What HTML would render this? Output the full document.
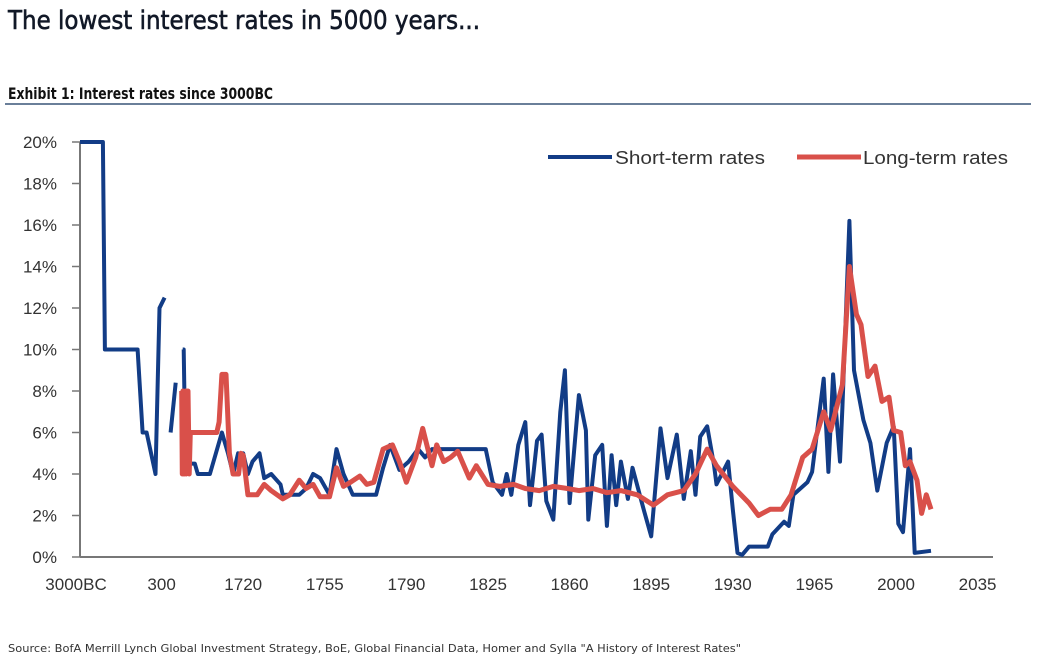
<!DOCTYPE html>
<html><head><meta charset="utf-8"><style>
html,body{margin:0;padding:0;background:#fff;width:1037px;height:668px;overflow:hidden}
svg{display:block}
</style></head><body>
<svg id="chart" width="1037" height="668" viewBox="0 0 1037 668">
<text x="8" y="29" font-family="'DejaVu Sans','Liberation Sans',sans-serif" font-size="26" fill="#111827" stroke="#111827" stroke-width="0.6" textLength="472" lengthAdjust="spacingAndGlyphs">The lowest interest rates in 5000 years...</text>
<text x="8" y="99" font-family="'DejaVu Sans','Liberation Sans',sans-serif" font-weight="bold" font-size="16" fill="#111" textLength="265" lengthAdjust="spacingAndGlyphs">Exhibit 1: Interest rates since 3000BC</text>
<rect x="5" y="103" width="1026" height="2" fill="#6a7f99"/>
<g id="axes"></g>
<g id="series"></g>
<g>
<line x1="548" y1="157" x2="612" y2="157" stroke="#123c86" stroke-width="4"/>
<text x="615" y="164" font-family="'Liberation Sans',sans-serif" font-size="18" fill="#333" textLength="150" lengthAdjust="spacingAndGlyphs">Short-term rates</text>
<line x1="797" y1="157" x2="861" y2="157" stroke="#d9504a" stroke-width="5"/>
<text x="863" y="164" font-family="'Liberation Sans',sans-serif" font-size="18" fill="#333" textLength="145" lengthAdjust="spacingAndGlyphs">Long-term rates</text>
</g>
<text x="8" y="652" font-family="'DejaVu Sans','Liberation Sans',sans-serif" font-size="11" fill="#333" textLength="733" lengthAdjust="spacingAndGlyphs">Source: BofA Merrill Lynch Global Investment Strategy, BoE, Global Financial Data, Homer and Sylla "A History of Interest Rates"</text>
</svg>
<script>
const xTickLabels = ["3000BC","300","1720","1755","1790","1825","1860","1895","1930","1965","2000","2035"];
const xTickYears = [-3000,300,1720,1755,1790,1825,1860,1895,1930,1965,2000,2035];
const yTicks = [0,2,4,6,8,10,12,14,16,18,20];

const shortSeg1Years = [-3000,-2075,-1995,-670,-470,-305,55,215,352];
const shortSeg1Rates = [20,20,10,10,6,6,4,12,12.5];
const shortSeg2Years = [457,545];
const shortSeg2Rates = [6,8.4];
const shortYears = [667,685,720,755,877,930,1140,1350,1455,1545,1632,1680,1720,1722,1724,1727,1729,1732,1736,1737,1740,1744,1747,1750,1753,1757,1760,1763,1767,1772,1777,1780,1783,1787,1791,1795,1798,1801,1810,1818,1824,1827,1831,1833,1835,1838,1841,1843,1846,1848,1850,1853,1856,1858,1860,1864,1867,1868,1871,1874,1876,1878,1880,1882,1885,1887,1892,1895,1899,1902,1906,1909,1912,1914,1916,1919,1922,1923,1928,1930,1932,1934,1937,1945,1947,1952,1954,1956,1962,1964,1969,1971,1973,1976,1977,1980,1982,1986,1989,1992,1996,1999,2001,2003,2006,2008,2015];
const shortRates = [10,10,4,4.5,4.5,4,4,6,5,4,5,4.5,5,4,4.6,5,3.8,4,3.5,3,3,3,3.3,4,3.8,3,5.2,4,3,3,3,4.3,5.4,4.2,4.6,5.2,4.8,5.2,5.2,5.2,5.2,3.6,3,4,3,5.4,6.5,2.5,5.6,5.9,2.7,1.8,7,9,2.6,7.8,6.1,1.8,4.9,5.4,1.5,4.9,2.5,4.6,2.8,4.3,2.2,1,6.2,3.8,5.9,2.8,5.1,3,5.8,6.3,4.4,3.5,4.6,2.3,0.2,0.1,0.5,0.5,1.1,1.7,1.5,3,3.6,4.1,8.6,4.1,8.8,4.6,7.2,16.2,9,6.6,5.5,3.2,5.5,6.3,1.6,1.2,5.2,0.2,0.3];

const longYears = [650,660,670,680,690,700,720,730,760,780,800,910,1000,1260,1300,1350,1420,1480,1545,1640,1680,1720,1722,1726,1729,1732,1737,1740,1744,1747,1750,1753,1757,1760,1763,1766,1770,1773,1776,1780,1784,1787,1790,1794,1797,1801,1803,1806,1809,1812,1817,1820,1825,1830,1836,1841,1847,1853,1859,1864,1870,1876,1882,1889,1896,1902,1909,1914,1919,1923,1930,1937,1941,1946,1951,1955,1960,1964,1969,1972,1977,1980,1983,1985,1988,1991,1994,1997,1999,2002,2004,2006,2009,2011,2013,2015];
const longRates = [8,4,8,4,7.8,4,8,4,8,4,6,6,6,6,6.5,8.8,8.8,5,4,4,5,4.9,3,3,3.5,3.2,2.8,3,3.7,3.3,3.5,2.9,2.9,4.3,3.4,3.6,3.9,3.5,3.6,5.2,5.4,4.6,3.6,4.8,6.2,4.4,5.4,4.6,4.8,5.1,3.8,4.4,3.5,3.4,3.5,3.3,3.2,3.4,3.3,3.2,3.3,3.1,3.2,3,2.5,3,3.2,4,5.2,4.4,3.4,2.6,2,2.3,2.3,3,4.8,5.2,7,6.1,8.3,14,11.7,11.2,8.7,9.2,7.5,7.7,6.1,6,4.4,4.6,3.7,2.1,3,2.3];

const NS='http://www.w3.org/2000/svg';
const X0=80, UNIT=81.6, Y0=557, PXPCT=20.75;
function xScale(year){
  for(let i=0;i<xTickYears.length-1;i++){
    if(year<=xTickYears[i+1]){
      const t=(year-xTickYears[i])/(xTickYears[i+1]-xTickYears[i]);
      return X0+(i+t)*UNIT;
    }
  }
  return X0+(xTickYears.length-1)*UNIT;
}
function yScale(v){return Y0-v*PXPCT;}

const axes=document.getElementById('axes');
const yAxis=document.createElementNS(NS,'line');
yAxis.setAttribute('x1',X0);yAxis.setAttribute('x2',X0);yAxis.setAttribute('y1',yScale(20));yAxis.setAttribute('y2',Y0);
yAxis.setAttribute('stroke','#777');yAxis.setAttribute('stroke-width','2');


axes.appendChild(yAxis);
const xAxis=document.createElementNS(NS,'line');
xAxis.setAttribute('x1',X0);xAxis.setAttribute('x2',993);xAxis.setAttribute('y1',Y0);xAxis.setAttribute('y2',Y0);
xAxis.setAttribute('stroke','#777');xAxis.setAttribute('stroke-width','2');


axes.appendChild(xAxis);

yTicks.forEach(v=>{
  const y=yScale(v);
  const tk=document.createElementNS(NS,'line');
  tk.setAttribute('x1',72);tk.setAttribute('x2',X0);tk.setAttribute('y1',y);tk.setAttribute('y2',y);
  tk.setAttribute('stroke','#777');tk.setAttribute('stroke-width','1.5');
  
  
  axes.appendChild(tk);
  const t=document.createElementNS(NS,'text');
  t.setAttribute('x',57);t.setAttribute('y',y+6);t.setAttribute('text-anchor','end');
  t.setAttribute('font-family',"'Liberation Sans',sans-serif");t.setAttribute('font-size','17');t.setAttribute('fill','#333');
  t.textContent=v+'%';
  
  
  axes.appendChild(t);
});
xTickLabels.forEach((lab,i)=>{
  const t=document.createElementNS(NS,'text');
  t.setAttribute('x',xScale(xTickYears[i])+(i===0?-4:0));t.setAttribute('y',590);t.setAttribute('text-anchor','middle');
  t.setAttribute('font-family',"'Liberation Sans',sans-serif");t.setAttribute('font-size','17');t.setAttribute('fill','#333');
  t.textContent=lab;
  
  
  axes.appendChild(t);
});

const series=document.getElementById('series');
function pathFrom(years,rates){
  return years.map((yr,i)=>(i?'L':'M')+xScale(yr).toFixed(1)+' '+yScale(rates[i]).toFixed(1)).join(' ');
}
function addLine(years,rates,color,w,name){
  const p=document.createElementNS(NS,'path');
  p.setAttribute('d',pathFrom(years,rates));
  p.setAttribute('fill','none');p.setAttribute('stroke',color);p.setAttribute('stroke-width',w);
  p.setAttribute('stroke-linejoin','round');
  
  
  series.appendChild(p);
}
addLine(shortSeg1Years,shortSeg1Rates,'#123c86',4,'short-term-line-ancient');
addLine(shortSeg2Years,shortSeg2Rates,'#123c86',4,'short-term-line-roman');
addLine(shortYears,shortRates,'#123c86',4,'short-term-line');
addLine(longYears,longRates,'#d9504a',5,'long-term-line');
</script>
</body></html>
